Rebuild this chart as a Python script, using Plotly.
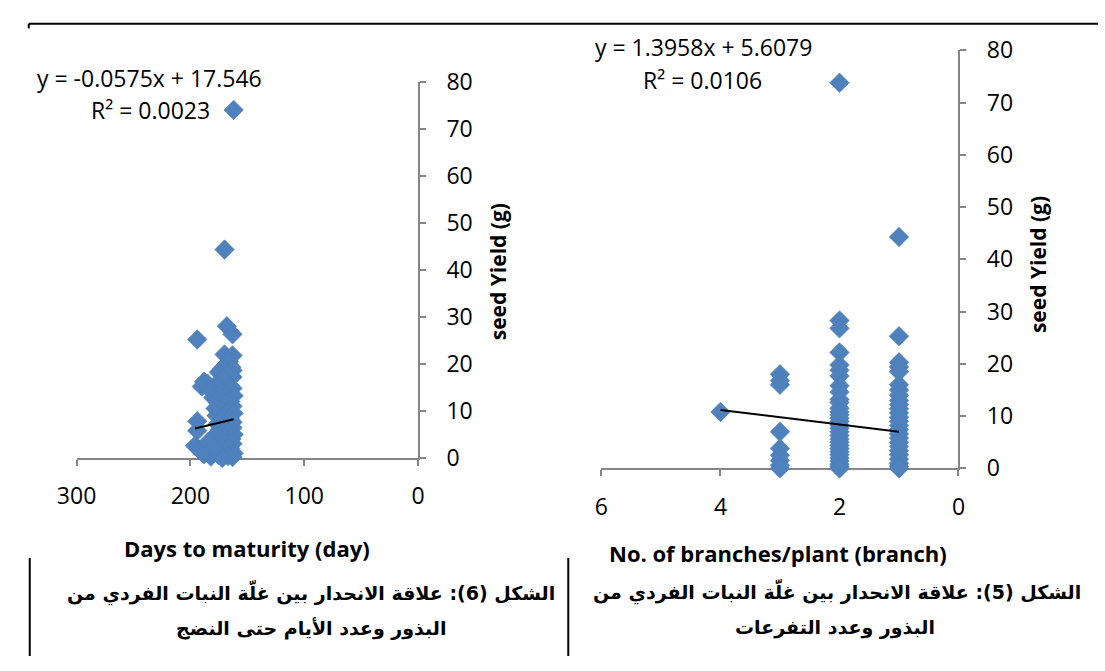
import plotly.graph_objects as go

W, H = 1105, 671

# ---- Data: chart (6) Days to maturity vs seed yield ----
days = [162, 170, 168, 163, 194, 170, 163, 166, 164, 172, 163, 175, 168, 163, 171,
        188, 185, 190, 178, 166, 163, 182, 173, 168, 162, 180, 176, 165, 170, 163,
        178, 173, 167, 162, 177, 171, 165, 194, 163, 176, 169, 163, 194, 174, 166,
        162, 178, 171, 164, 176, 168, 163, 196, 173, 165, 192, 178, 170, 162, 188,
        175, 167, 163, 182, 172, 190, 184, 179]
yield_days = [74.0, 44.3, 28.0, 26.3, 25.2, 22.0, 21.8, 20.5, 19.3, 19.0, 18.6, 18.2, 17.8, 17.2, 16.8,
              16.2, 15.8, 15.2, 15.5, 15.0, 14.8, 14.3, 14.0, 13.5, 13.2, 12.8, 12.2, 12.0, 11.5, 11.0,
              10.5, 10.2, 9.8, 9.5, 9.0, 8.6, 8.2, 7.8, 7.6, 7.2, 6.8, 6.4, 5.8, 6.0, 5.5,
              5.0, 4.8, 4.5, 4.0, 3.6, 3.2, 3.0, 2.6, 2.4, 2.0, 1.8, 1.5, 1.2, 1.0, 0.8,
              0.6, 0.4, 0.2, 0.3, 0.0, 1.2, 3.5, 2.2]
eq_days = "y = -0.0575x + 17.546"
r2_days = "R² = 0.0023"
slope_days, icpt_days = -0.0575, 17.546

# ---- Data: chart (5) No. of branches vs seed yield ----
branches = ([4] +
            [3] * 9 +
            [2] * 31 +
            [1] * 26)
yield_br = ([10.8] +
            [18.0, 16.8, 16.0, 7.0, 3.8, 2.5, 1.5, 0.6, 0.0] +
            [73.8, 28.3, 26.8, 22.2, 19.8, 18.8, 17.7, 15.8, 14.6, 13.2, 12.6, 11.5, 10.8, 10.2,
             9.6, 9.0, 8.3, 7.7, 7.0, 6.3, 5.6, 5.0, 4.4, 3.8, 3.2, 2.6, 2.0, 1.4, 0.8, 0.3, 0.0] +
            [44.3, 25.3, 20.3, 19.4, 18.5, 16.0, 15.0, 14.0, 13.0, 12.2, 11.4, 10.6, 9.8, 9.0,
             8.2, 7.4, 6.6, 5.8, 5.0, 4.2, 3.4, 2.6, 1.8, 1.0, 0.4, 0.0])
eq_br = "y = 1.3958x + 5.6079"
r2_br = "R² = 0.0106"
slope_br, icpt_br = 1.3958, 5.6079

x_ticks_days = [0, 100, 200, 300]
x_ticks_br = [0, 2, 4, 6]

y_title = "seed Yield (g)"
x_title_days = "Days to maturity (day)"
x_title_br = "No. of branches/plant (branch)"
cap6 = ["\u200fالشكل (6): علاقة الانحدار بين غلّة النبات الفردي من", "\u200fالبذور وعدد الأيام حتى النضج"]
cap5 = ["\u200fالشكل (5): علاقة الانحدار بين غلّة النبات الفردي من", "\u200fالبذور وعدد التفرعات"]

BLUE = "#4F81BD"
AX = "#868686"
FONT = "Open Sans"


def px(x):
    return x / W


def py(y):
    return 1 - y / H


fig = go.Figure()

mk = dict(symbol="diamond", size=15, color=BLUE, line=dict(width=0.6, color="#4A7EBB"))
fig.add_trace(go.Scatter(x=days, y=yield_days, mode="markers", marker=mk,
                         xaxis="x", yaxis="y", cliponaxis=False, showlegend=False))
tx1 = [min(days), max(days)]
fig.add_trace(go.Scatter(x=tx1, y=[slope_days * v + icpt_days for v in tx1], mode="lines",
                         line=dict(color="black", width=2), xaxis="x", yaxis="y",
                         cliponaxis=False, showlegend=False))

fig.add_trace(go.Scatter(x=branches, y=yield_br, mode="markers", marker=mk,
                         xaxis="x2", yaxis="y2", cliponaxis=False, showlegend=False))
tx2 = [min(branches), max(branches)]
fig.add_trace(go.Scatter(x=tx2, y=[slope_br * v + icpt_br for v in tx2], mode="lines",
                         line=dict(color="black", width=2), xaxis="x2", yaxis="y2",
                         cliponaxis=False, showlegend=False))

tickfont = dict(family=FONT, size=23, color="black")
common = dict(showline=True, linecolor=AX, linewidth=1.5, ticks="outside", tickcolor=AX,
              ticklen=6, tickwidth=1.5, showgrid=False, zeroline=False, tickfont=tickfont,
              layer="below traces", fixedrange=True)

fig.update_layout(
    width=W, height=H, margin=dict(l=0, r=0, t=0, b=0),
    paper_bgcolor="white", plot_bgcolor="white",
    xaxis=dict(domain=[px(58), px(408)], range=[300, 0], tickvals=x_ticks_days, anchor="y",
               ticklabelstandoff=11, **common),
    yaxis=dict(domain=[py(463), py(68)], range=[0, 80], dtick=10, side="right", anchor="x",
               ticklabelstandoff=16, **common),
    xaxis2=dict(domain=[px(596), px(962)], range=[6, 0], tickvals=x_ticks_br, anchor="y2",
                ticklabelstandoff=11, **common),
    yaxis2=dict(domain=[py(474), py(35)], range=[0, 80], dtick=10, side="right", anchor="x2",
                ticklabelstandoff=16, **common),
)

ann = []
tf = dict(family=FONT, size=23, color="black")
ann.append(dict(x=px(133), y=py(64), text=eq_days, font=tf))
ann.append(dict(x=px(134), y=py(98), text=r2_days, font=tf))
ann.append(dict(x=px(701), y=py(32), text=eq_br, font=tf))
ann.append(dict(x=px(700), y=py(66), text=r2_br, font=tf))

bf = dict(family=FONT, size=21, color="black", weight="bold")
bfx = dict(family=FONT, size=22, color="black", weight="bold")
ann.append(dict(x=px(490), y=py(268), text=y_title, font=bf, textangle=-90))
ann.append(dict(x=px(1043), y=py(260), text=y_title, font=bf, textangle=-90))
ann.append(dict(x=px(233), y=py(558), text=x_title_days, font=bfx))
ann.append(dict(x=px(777), y=py(563), text=x_title_br, font=bfx))

af = dict(family="DejaVu Sans", size=19, color="black", weight="bold")
ann.append(dict(x=px(298), y=py(605), text=cap6[0], font=af))
ann.append(dict(x=px(298), y=py(642), text=cap6[1], font=af))
ann.append(dict(x=px(837), y=py(604), text=cap5[0], font=af))
ann.append(dict(x=px(835), y=py(641), text=cap5[1], font=af))

for a in ann:
    a.update(xref="paper", yref="paper", showarrow=False, xanchor="center", yanchor="middle")
fig.update_layout(annotations=ann)

shapes = [
    dict(type="line", x0=px(9), x1=px(1105), y0=py(7), y1=py(7), line=dict(color="black", width=2)),
    dict(type="line", x0=px(9), x1=px(9), y0=py(7), y1=py(12), line=dict(color="black", width=2)),
    dict(type="line", x0=px(10), x1=px(10), y0=py(568), y1=py(671), line=dict(color="black", width=2)),
    dict(type="line", x0=px(562), x1=px(562), y0=py(568), y1=py(671), line=dict(color="black", width=2)),
]
for s in shapes:
    s.update(xref="paper", yref="paper")
fig.update_layout(shapes=shapes)

fig.write_html("out.html")
